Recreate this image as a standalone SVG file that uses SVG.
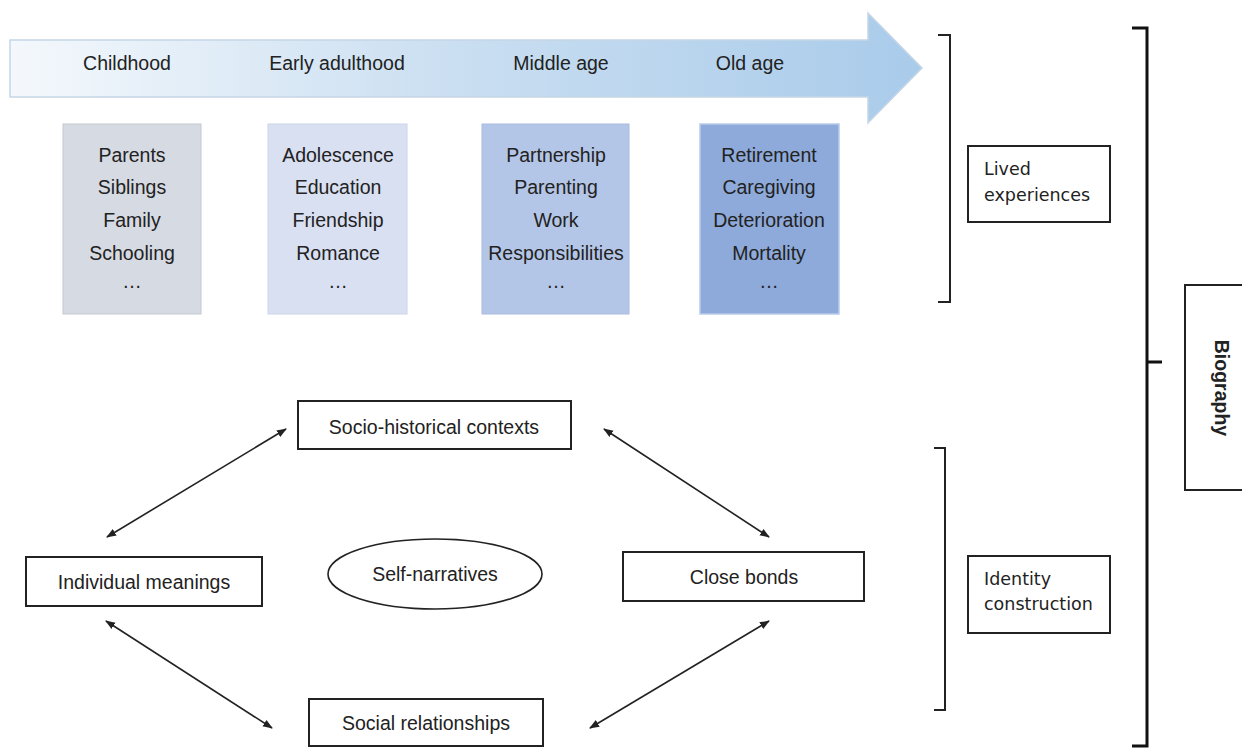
<svg xmlns="http://www.w3.org/2000/svg" width="1242" height="749" viewBox="0 0 1242 749">
<defs>
<linearGradient id="g" x1="0" y1="0" x2="1" y2="0">
<stop offset="0" stop-color="#f4f8fc"/>
<stop offset="0.5" stop-color="#c9def1"/>
<stop offset="1" stop-color="#a9cbea"/>
</linearGradient>
<marker id="ah" viewBox="0 0 10 10" refX="9" refY="5" markerWidth="10" markerHeight="10" orient="auto-start-reverse" markerUnits="userSpaceOnUse">
<path d="M0,1.2 L10,5 L0,8.8 z" fill="#222"/>
</marker>
<style>
.t{font-family:"Liberation Sans",Arial,sans-serif;font-size:19.5px;fill:#222;text-anchor:middle}
.v{font-family:"DejaVu Sans",Verdana,sans-serif;font-size:17.5px;fill:#222}
.b{fill:#fff;stroke:#222;stroke-width:2}
.c{stroke:#222;stroke-width:1.6;fill:none}
.br{stroke:#222;stroke-width:2;fill:none}
</style>
</defs>
<g id="timeline">
<path d="M10,40 L868,40 L868,13 L922,68 L868,123 L868,97 L10,97 z" fill="url(#g)" stroke="#c5d6e6" stroke-width="1.5"/>
<text class="t" x="127" y="70">Childhood</text>
<text class="t" x="337" y="70">Early adulthood</text>
<text class="t" x="561" y="70">Middle age</text>
<text class="t" x="750" y="70">Old age</text>
</g>
<g id="childhood">
<rect x="63" y="124" width="138" height="190" fill="#d6dae3" stroke="#c4c8d0"/>
<text class="t" x="132" y="162">Parents</text>
<text class="t" x="132" y="194">Siblings</text>
<text class="t" x="132" y="227">Family</text>
<text class="t" x="132" y="260">Schooling</text>
<text class="t" x="132" y="288">…</text>
</g>
<g id="early">
<rect x="268" y="124" width="139" height="190" fill="#d9e0f2" stroke="#ccd4e8"/>
<text class="t" x="338" y="162">Adolescence</text>
<text class="t" x="338" y="194">Education</text>
<text class="t" x="338" y="227">Friendship</text>
<text class="t" x="338" y="260">Romance</text>
<text class="t" x="338" y="288">…</text>
</g>
<g id="middle">
<rect x="482" y="124" width="147" height="190" fill="#b4c6e7" stroke="#a9bcdf"/>
<text class="t" x="556" y="162">Partnership</text>
<text class="t" x="556" y="194">Parenting</text>
<text class="t" x="556" y="227">Work</text>
<text class="t" x="556" y="260">Responsibilities</text>
<text class="t" x="556" y="288">…</text>
</g>
<g id="old">
<rect x="700" y="124" width="139" height="190" fill="#8eaadb" stroke="#b8cbe9" stroke-width="1.5"/>
<text class="t" x="769" y="162">Retirement</text>
<text class="t" x="769" y="194">Caregiving</text>
<text class="t" x="769" y="227">Deterioration</text>
<text class="t" x="769" y="260">Mortality</text>
<text class="t" x="769" y="288">…</text>
</g>
<g id="brackets">
<path class="br" d="M938,35 L950,35 L950,302 L938,302"/>
<path class="br" d="M934,448 L945,448 L945,710 L934,710"/>
<path d="M1132,28 L1147,28 L1147,746 L1132,746 M1147,362 L1162,362" stroke="#111" stroke-width="3" fill="none"/>
</g>
<g id="lived">
<rect class="b" x="968" y="146" width="142" height="76"/>
<text class="v" x="984" y="175">Lived</text>
<text class="v" x="984" y="201">experiences</text>
</g>
<g id="identity">
<rect class="b" x="968" y="556" width="142" height="77"/>
<text class="v" x="984" y="585">Identity</text>
<text class="v" x="984" y="610">construction</text>
</g>
<g id="biography">
<rect class="b" x="1185" y="285" width="60" height="205"/>
<text class="t" transform="translate(1215,388) rotate(90)" style="font-weight:bold;font-size:19.5px">Biography</text>
</g>
<g id="socio">
<rect class="b" x="298" y="401" width="273" height="48"/>
<text class="t" x="434" y="434">Socio-historical contexts</text>
</g>
<g id="individual">
<rect class="b" x="26" y="557" width="236" height="49"/>
<text class="t" x="144" y="589">Individual meanings</text>
</g>
<g id="self">
<ellipse cx="435" cy="574" rx="107" ry="35" fill="#fff" stroke="#222" stroke-width="1.6"/>
<text class="t" x="435" y="581">Self-narratives</text>
</g>
<g id="close">
<rect class="b" x="623" y="552" width="241" height="49"/>
<text class="t" x="744" y="584">Close bonds</text>
</g>
<g id="social">
<rect class="b" x="309" y="699" width="234" height="47"/>
<text class="t" x="426" y="730">Social relationships</text>
</g>
<g id="connectors">
<line class="c" x1="107" y1="537" x2="286" y2="429" marker-start="url(#ah)" marker-end="url(#ah)"/>
<line class="c" x1="604" y1="429" x2="769" y2="537" marker-start="url(#ah)" marker-end="url(#ah)"/>
<line class="c" x1="106" y1="621" x2="272" y2="728" marker-start="url(#ah)" marker-end="url(#ah)"/>
<line class="c" x1="590" y1="728" x2="769" y2="621" marker-start="url(#ah)" marker-end="url(#ah)"/>
</g>
</svg>
